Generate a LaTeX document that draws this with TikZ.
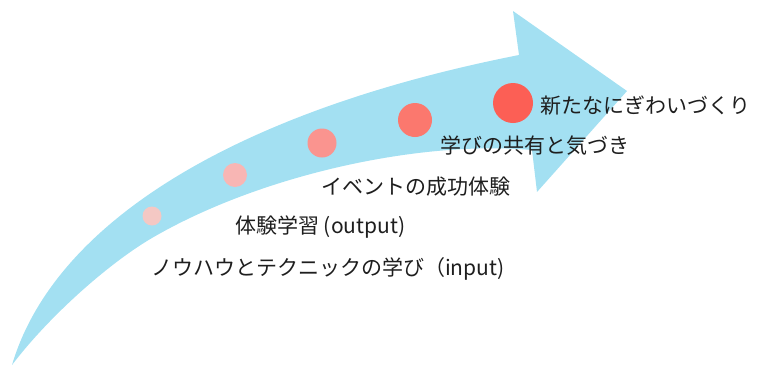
\documentclass[tikz,border=0pt]{standalone}
\usepackage{fontspec}
\newfontfamily\jp{Noto Sans CJK JP}
\definecolor{arrowblue}{RGB}{163,224,242}
\definecolor{dotA}{RGB}{244,200,196}
\definecolor{dotB}{RGB}{248,182,180}
\definecolor{dotC}{RGB}{250,148,143}
\definecolor{dotD}{RGB}{251,120,110}
\definecolor{dotE}{RGB}{252,95,85}
\definecolor{txt}{RGB}{30,30,30}
\tikzset{
  dot/.style={circle, inner sep=0pt, draw=none},
  lbl/.style={anchor=base west, inner sep=0pt, text=txt, font=\jp\fontsize{21}{21}\selectfont}
}
\begin{document}
\begin{tikzpicture}[x=1pt,y=-1pt]
\useasboundingbox (0,0) rectangle (757,367);
% arrow body
\coordinate (tail) at (12,365);
\coordinate (hu) at (519,55);
\coordinate (hb1) at (513,11);
\coordinate (tip) at (627,91);
\coordinate (hb2) at (537,192);
\coordinate (hl) at (532,150);
\coordinate (lm) at (152,238);
\fill[arrowblue] (tail)
  .. controls (55,220) and (240,110) .. (hu)
  -- (hb1) -- (tip) -- (hb2) -- (hl)
  .. controls (420,140) and (260,175) .. (lm)
  .. controls (110,262.5) and (50,315) .. (tail) -- cycle;
% dots
\node[dot, fill=dotA, minimum size=19pt] (d1) at (152,216) {};
\node[dot, fill=dotB, minimum size=24pt] (d2) at (235,175) {};
\node[dot, fill=dotC, minimum size=29pt] (d3) at (322,143) {};
\node[dot, fill=dotD, minimum size=34pt] (d4) at (415,120) {};
\node[dot, fill=dotE, minimum size=40pt] (d5) at (513,103) {};
% labels
\node[lbl] (t5) at (540,113) {新たなにぎわいづくり};
\node[lbl] (t4) at (440,153) {学びの共有と気づき};
\node[lbl] (t3) at (321,194) {イベントの成功体験};
\node[lbl] (t2) at (235,233) {体験学習 (output)};
\node[lbl] (t1) at (151,275) {ノウハウとテクニックの学び（input)};
\end{tikzpicture}
\end{document}
